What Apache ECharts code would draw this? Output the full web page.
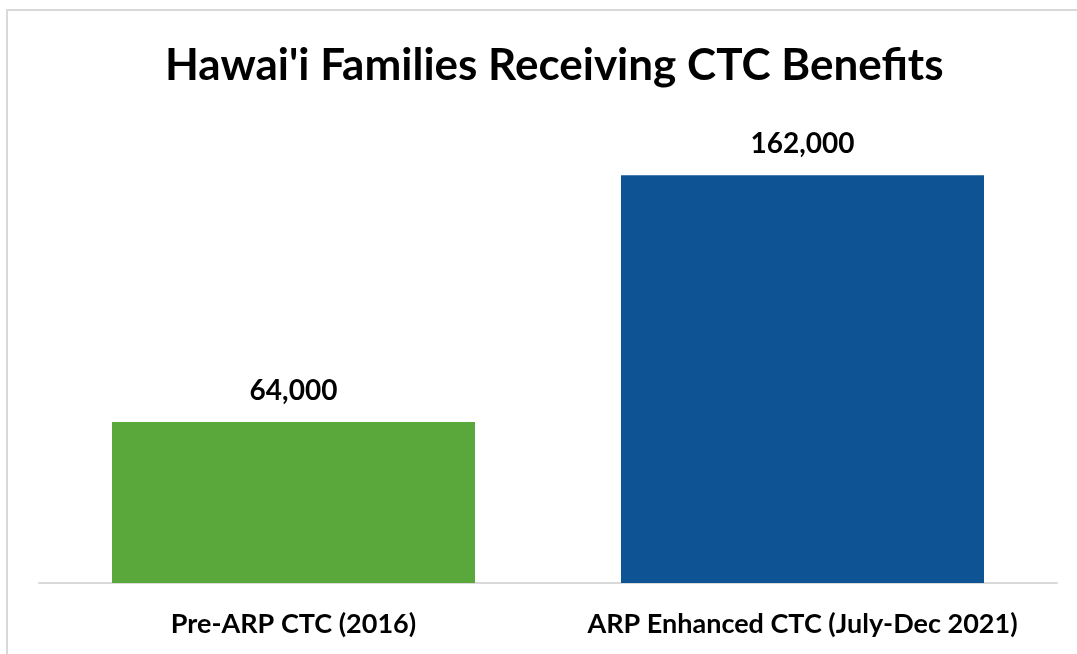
<!DOCTYPE html>
<html>
<head>
<meta charset="UTF-8">
<title>Hawai'i CTC</title>
<script type="text/javascript" src="https://cdn.jsdelivr.net/npm/echarts@6/dist/echarts.min.js"></script>
<style>
	html, body { margin: 0; padding: 0; background: #fff; }
	#frame { position: absolute; left: 6px; top: 9px; right: -10px; bottom: -10px; border: 2px solid #d9d9d9; }
	#container { width: 1077px; height: 654px; position: absolute; left: 0; top: 0; }
</style>
</head>
<body>
	<div id="frame"></div>
	<div id="container"></div>
<script type="text/javascript">
	var categories = ['Pre-ARP CTC (2016)', 'ARP Enhanced CTC (July-Dec 2021)'];
	var families = [64000, 162000];
	var barColors = ['#5aa83c', '#0e5394'];

	var myChart = echarts.init(document.getElementById('container'));
	var fontName = 'Lato';

	var option = {
		animation: false,
		title: {
			text: "Hawai'i Families Receiving CTC Benefits",
			left: 160,
			top: 39,
			textStyle: { fontFamily: fontName, fontWeight: 'bold', fontSize: 44, color: '#000' }
		},
		grid: { left: 39, right: 20, top: 130, bottom: 71 },
		xAxis: {
			type: 'category',
			data: categories,
			axisLine: { lineStyle: { color: '#d9d9d9', width: 2 } },
			axisTick: { show: false },
			axisLabel: { interval: 0, hideOverlap: false, margin: 28, fontFamily: fontName, fontWeight: 'bold', fontSize: 27, color: '#000' }
		},
		yAxis: {
			type: 'value',
			min: 0,
			max: 180000,
			show: false,
			splitLine: { show: false }
		},
		series: [{
			type: 'bar',
			barWidth: 363,
			data: families.map(function (v, i) {
				return { value: v, itemStyle: { color: barColors[i] } };
			}),
			label: {
				show: true,
				position: 'top',
				distance: 17,
				fontFamily: fontName,
				fontWeight: 'bold',
				fontSize: 28,
				color: '#000',
				formatter: function (p) { return p.value.toLocaleString('en-US'); }
			}
		}]
	};
	myChart.setOption(option);
</script>
</body>
</html>
